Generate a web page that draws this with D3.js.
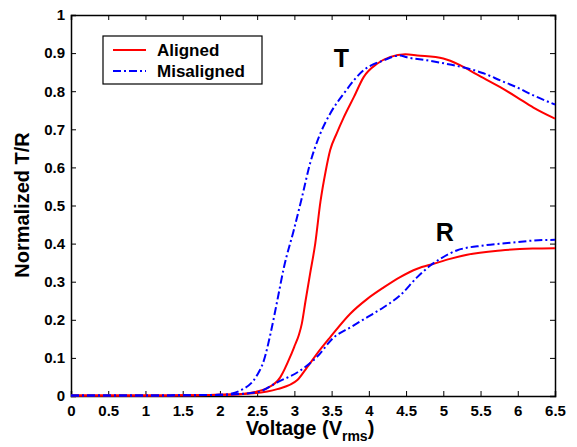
<!DOCTYPE html>
<html>
<head>
<meta charset="utf-8">
<script src="https://cdn.jsdelivr.net/npm/d3@7"></script>
<style>
  body { margin: 0; background: #fff; }
  text { font-family: "Liberation Sans", Arial, sans-serif; font-weight: bold; }
</style>
</head>
<body>
<svg width="577" height="447"></svg>
<script>
// [voltage, normalized value]
var alignedT = [[0,0.001],[0.5,0.001],[1,0.001],[1.5,0.002],[2,0.003],[2.3,0.005],[2.5,0.012],[2.63,0.02],
  [2.81,0.049],[2.95,0.106],[3.0,0.13],[3.06,0.16],[3.1,0.19],[3.15,0.25],[3.21,0.32],[3.28,0.40],[3.35,0.51],
  [3.42,0.59],[3.48,0.645],[3.57,0.69],[3.66,0.73],[3.8,0.785],[3.93,0.837],[4.11,0.872],[4.29,0.89],
  [4.49,0.897],[4.65,0.894],[5.0,0.886],[5.23,0.868],[5.45,0.844],[5.77,0.81],[5.99,0.784],[6.21,0.757],[6.5,0.728]];
var misalignedT = [[0,0.001],[0.5,0.001],[1,0.001],[1.5,0.002],[2,0.003],[2.12,0.005],[2.27,0.014],[2.5,0.055],
  [2.59,0.093],[2.68,0.164],[2.77,0.25],[2.86,0.338],[2.99,0.434],[3.1,0.52],[3.21,0.61],[3.33,0.68],
  [3.48,0.741],[3.66,0.793],[3.93,0.855],[4.2,0.881],[4.42,0.894],[4.51,0.889],[4.78,0.881],[5.09,0.87],
  [5.32,0.86],[5.54,0.847],[5.77,0.828],[5.99,0.81],[6.21,0.789],[6.5,0.765]];
var alignedR = [[0,0.001],[0.5,0.001],[1,0.001],[1.5,0.002],[2,0.003],[2.45,0.007],[2.77,0.018],[3.04,0.042],
  [3.17,0.075],[3.3,0.11],[3.48,0.154],[3.75,0.216],[3.98,0.255],[4.2,0.285],[4.42,0.312],[4.65,0.334],
  [4.87,0.347],[5.09,0.36],[5.32,0.371],[5.77,0.382],[6.2,0.387],[6.5,0.388]];
var misalignedR = [[0,0.001],[0.5,0.001],[1,0.001],[1.5,0.002],[2,0.003],[2.5,0.01],[2.77,0.036],[3.08,0.067],
  [3.3,0.102],[3.53,0.154],[3.75,0.18],[3.98,0.207],[4.2,0.233],[4.42,0.264],[4.65,0.312],[4.83,0.343],
  [4.96,0.36],[5.18,0.382],[5.54,0.395],[5.9,0.402],[6.21,0.408],[6.5,0.41]];

var xTicks = [0,0.5,1,1.5,2,2.5,3,3.5,4,4.5,5,5.5,6,6.5];
var yTicks = [0,0.1,0.2,0.3,0.4,0.5,0.6,0.7,0.8,0.9,1];
var seriesNames = ["Aligned", "Misaligned"];

var svg = d3.select("svg"),
    margin = {left: 71, top: 15, right: 22, bottom: 51},
    width = 577 - margin.left - margin.right,
    height = 447 - margin.top - margin.bottom;

var x = d3.scaleLinear().domain([0, 6.5]).range([0, width]);
var y = d3.scaleLinear().domain([0, 1]).range([height, 0]);

var g = svg.append("g").attr("transform", "translate(" + margin.left + "," + margin.top + ")");

var fmt = function(d) { return d3.format("")(+d.toFixed(1)); };

g.append("g").attr("transform", "translate(0," + height + ")")
    .call(d3.axisBottom(x).tickValues(xTicks).tickSize(-5).tickPadding(9).tickFormat(fmt));
g.append("g")
    .call(d3.axisTop(x).tickValues(xTicks).tickSize(-5).tickFormat(""));
g.append("g")
    .call(d3.axisLeft(y).tickValues(yTicks).tickSize(-5).tickPadding(6).tickFormat(fmt));
g.append("g").attr("transform", "translate(" + width + ",0)")
    .call(d3.axisRight(y).tickValues(yTicks).tickSize(-5).tickFormat(""));

g.selectAll(".domain").attr("stroke", "#000").attr("stroke-width", 1.5);
g.selectAll(".tick line").attr("stroke", "#000");
g.selectAll(".tick text").attr("font-size", 15).attr("fill", "#000")
    .style("font-family", "'Liberation Sans', Arial, sans-serif").style("font-weight", "bold");

var line = d3.line()
    .curve(d3.curveMonotoneX)
    .x(function(d) { return x(d[0]); })
    .y(function(d) { return y(d[1]); });
var dash = "8,3,2,3";

g.append("path").datum(alignedT).attr("d", line)
    .attr("fill", "none").attr("stroke", "#ff0000").attr("stroke-width", 2);
g.append("path").datum(alignedR).attr("d", line)
    .attr("fill", "none").attr("stroke", "#ff0000").attr("stroke-width", 2);
g.append("path").datum(misalignedT).attr("d", line)
    .attr("fill", "none").attr("stroke", "#0000ff").attr("stroke-width", 2).attr("stroke-dasharray", dash);
g.append("path").datum(misalignedR).attr("d", line)
    .attr("fill", "none").attr("stroke", "#0000ff").attr("stroke-width", 2).attr("stroke-dasharray", dash);

// curve labels
g.append("text").attr("x", x(3.53)).attr("y", y(0.8635)).attr("font-size", 25).text("T");
g.append("text").attr("x", x(4.9)).attr("y", y(0.4076)).attr("font-size", 25).text("R");

// legend
var legend = svg.append("g").attr("transform", "translate(103,36)");
legend.append("rect").attr("width", 159).attr("height", 48)
    .attr("fill", "#fff").attr("stroke", "#000").attr("stroke-width", 1.2);
seriesNames.forEach(function(name, i) {
  var yy = 14 + i * 21;
  legend.append("line").attr("x1", 10).attr("x2", 43).attr("y1", yy).attr("y2", yy)
      .attr("stroke", i ? "#0000ff" : "#ff0000").attr("stroke-width", 2)
      .attr("stroke-dasharray", i ? dash : null);
  legend.append("text").attr("x", 54).attr("y", yy + 6).attr("font-size", 17).text(name);
});

// axis titles
var xl = svg.append("text").attr("x", 310).attr("y", 435).attr("text-anchor", "middle").attr("font-size", 20);
xl.append("tspan").text("Voltage (V");
xl.append("tspan").attr("dy", 6).attr("font-size", 14).text("rms");
xl.append("tspan").attr("dy", -6).text(")");

svg.append("text").attr("transform", "translate(29,205) rotate(-90)")
    .attr("text-anchor", "middle").attr("font-size", 20).text("Normalized T/R");
</script>
</body>
</html>
